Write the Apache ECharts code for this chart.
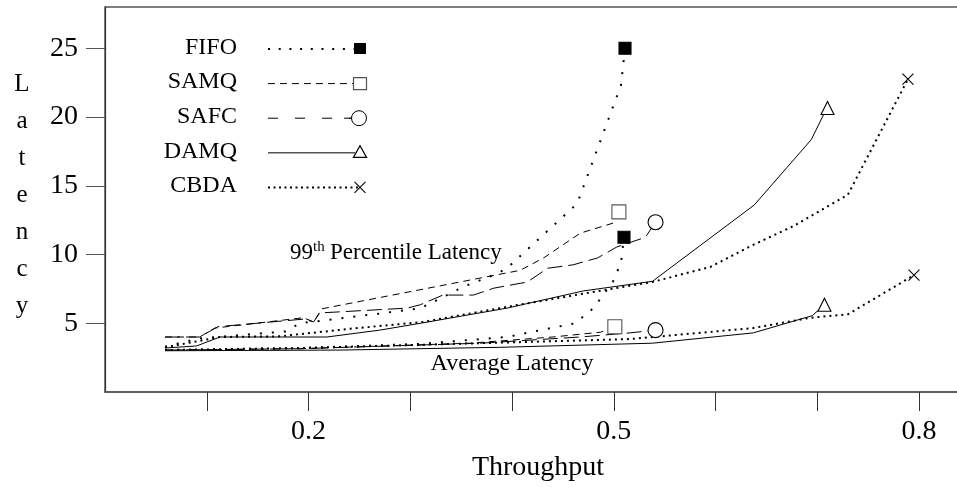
<!DOCTYPE html>
<html>
<head>
<meta charset="utf-8">
<script src="https://cdn.jsdelivr.net/npm/echarts@6/dist/echarts.min.js"></script>
<style>
  html, body { margin: 0; padding: 0; background: #fff; }
  #chart { width: 957px; height: 487px; }
</style>
</head>
<body>
<div id="chart"></div>
<script>
// Switch architectures compared
const schemes = ['FIFO', 'SAMQ', 'SAFC', 'DAMQ', 'CBDA'];

// [throughput, latency] — 99th percentile latency
const fifoP99 = [[0.059, 3.3], [0.093, 3.9], [0.177, 4.4], [0.192, 5.0], [0.275, 5.75], [0.310, 6.1], [0.331, 6.85], [0.352, 7.65], [0.385, 8.6], [0.395, 9.0], [0.464, 13.7], [0.507, 22.3], [0.511, 25.0]];
const samqP99 = [[0.059, 4.0], [0.093, 4.0], [0.108, 4.65], [0.195, 5.4], [0.205, 5.1], [0.213, 6.05], [0.408, 8.85], [0.431, 9.75], [0.467, 11.55], [0.500, 12.3], [0.505, 13.1]];
const safcP99 = [[0.059, 4.0], [0.093, 4.0], [0.111, 4.75], [0.195, 5.3], [0.205, 5.1], [0.211, 5.75], [0.297, 6.1], [0.310, 6.35], [0.332, 7.05], [0.362, 7.05], [0.382, 7.55], [0.415, 8.0], [0.435, 9.0], [0.460, 9.25], [0.484, 9.75], [0.503, 10.55], [0.531, 11.25], [0.541, 12.35]];
const damqP99 = [[0.059, 3.2], [0.090, 3.35], [0.113, 4.0], [0.218, 4.0], [0.270, 4.5], [0.310, 5.0], [0.395, 6.1], [0.470, 7.35], [0.538, 8.05], [0.638, 13.6], [0.694, 18.35], [0.706, 20.15], [0.710, 20.65]];
const cbdaP99 = [[0.059, 3.25], [0.113, 4.0], [0.172, 4.05], [0.241, 4.6], [0.313, 5.1], [0.388, 6.1], [0.470, 7.15], [0.538, 8.0], [0.595, 9.1], [0.637, 10.7], [0.676, 12.05], [0.730, 14.35], [0.789, 22.75]];

// [throughput, latency] — average latency
const fifoAvg = [[0.059, 3.05], [0.192, 3.2], [0.310, 3.5], [0.395, 4.0], [0.435, 4.6], [0.462, 5.0], [0.480, 6.1], [0.499, 8.0], [0.507, 9.4], [0.510, 11.25]];
const samqAvg = [[0.059, 3.05], [0.192, 3.15], [0.359, 3.55], [0.440, 4.0], [0.487, 4.35], [0.501, 4.75]];
const safcAvg = [[0.059, 3.05], [0.192, 3.15], [0.369, 3.55], [0.467, 4.0], [0.516, 4.3], [0.541, 4.5]];
const damqAvg = [[0.059, 3.0], [0.231, 3.05], [0.388, 3.25], [0.538, 3.55], [0.637, 4.3], [0.695, 5.55], [0.707, 6.35]];
const cbdaAvg = [[0.059, 3.05], [0.192, 3.2], [0.369, 3.55], [0.516, 3.85], [0.637, 4.65], [0.693, 5.4], [0.730, 5.65], [0.762, 7.05], [0.795, 8.5]];

// Axis ticks and labels
const xTickValues = [0.1, 0.2, 0.3, 0.4, 0.5, 0.6, 0.7, 0.8];
const xLabelValues = [0.2, 0.5, 0.8];
const yTickValues = [5, 10, 15, 20, 25];

const FONT = '"Liberation Serif", "Times New Roman", serif';

// Line and marker style per scheme
const looks = {
  FIFO: { dash: [2, 10], width: 2, legendDash: [2, 8.7], symbol: 'rect', size: 12, fill: '#000', stroke: '#000' },
  SAMQ: { dash: [7, 5], width: 1, legendDash: [7, 5], symbol: 'rect', size: 14, fill: '#fff', stroke: '#555' },
  SAFC: { dash: [15, 6], width: 1, legendDash: [10, 17], symbol: 'circle', size: 15, fill: '#fff', stroke: '#000' },
  DAMQ: { dash: 'solid', width: 1, legendDash: null, symbol: 'triangle', size: 13, fill: '#fff', stroke: '#000' },
  CBDA: { dash: [2, 4], width: 2, legendDash: [2, 3.5], symbol: 'path://M0,0L10,10M10,0L0,10', size: 11, fill: 'none', stroke: '#000' }
};

const curves = [
  ['FIFO', '99th', fifoP99], ['SAMQ', '99th', samqP99], ['SAFC', '99th', safcP99], ['DAMQ', '99th', damqP99], ['CBDA', '99th', cbdaP99],
  ['FIFO', 'avg', fifoAvg], ['SAMQ', 'avg', samqAvg], ['SAFC', 'avg', safcAvg], ['DAMQ', 'avg', damqAvg], ['CBDA', 'avg', cbdaAvg]
];

// Each curve carries its marker only on its final point
function buildSeries(scheme, kind, pts) {
  const lk = looks[scheme];
  const data = pts.map((p, i) => i === pts.length - 1
    ? { value: p, symbol: lk.symbol, symbolSize: lk.size }
    : { value: p });
  return {
    name: scheme + ' ' + kind,
    type: 'line',
    data: data,
    symbol: 'none',
    showSymbol: true,
    silent: true,
    lineStyle: { color: '#000', width: lk.width, type: lk.dash, cap: 'butt' },
    itemStyle: { color: lk.fill, borderColor: lk.stroke, borderWidth: 1.1 },
    z: 3
  };
}

// Legend block, drawn as graphic elements (label, line sample, marker at the end)
function legendGraphics() {
  const out = [];
  const lineX1 = 268, lineX2 = 358, markX = 360;
  schemes.forEach((s, i) => {
    const lk = looks[s];
    const yc = 47.5 + i * 34.6;
    const yl = yc + 1.5;
    out.push({
      type: 'text', x: 237, y: yc,
      style: { text: s, font: '24px ' + FONT, fill: '#000', align: 'right', verticalAlign: 'middle', textAlign: 'right', textVerticalAlign: 'middle' }
    });
    const endX = s === 'SAFC' ? 352 : (s === 'DAMQ' ? 355 : lineX2);
    out.push({
      type: 'line', shape: { x1: lineX1, y1: yl, x2: endX, y2: yl },
      style: { stroke: s === 'DAMQ' ? '#555' : '#000', lineWidth: s === 'DAMQ' ? 1.6 : lk.width, lineDash: lk.legendDash, lineCap: 'butt' }
    });
    if (s === 'FIFO') {
      out.push({ type: 'rect', shape: { x: markX - 6, y: yl - 6, width: 12, height: 11 }, style: { fill: '#000' } });
    } else if (s === 'SAMQ') {
      out.push({ type: 'rect', shape: { x: markX - 6.5, y: yl - 6, width: 13, height: 12 }, style: { fill: '#fff', stroke: '#555', lineWidth: 1.2 } });
    } else if (s === 'SAFC') {
      out.push({ type: 'circle', shape: { cx: markX - 1, cy: yl, r: 7.5 }, style: { fill: '#fff', stroke: '#000', lineWidth: 1 } });
      out.push({ type: 'line', shape: { x1: 344, y1: yl, x2: 352, y2: yl }, style: { stroke: '#000', lineWidth: 1 } });
    } else if (s === 'DAMQ') {
      out.push({ type: 'polygon', shape: { points: [[markX, yl - 7], [markX - 6.5, yl + 4.5], [markX + 6.5, yl + 4.5]] }, style: { fill: '#fff', stroke: '#000', lineWidth: 1.3 } });
    } else {
      out.push({ type: 'line', shape: { x1: markX - 5.5, y1: yl - 5.5, x2: markX + 5.5, y2: yl + 5.5 }, style: { stroke: '#000', lineWidth: 1.1 } });
      out.push({ type: 'line', shape: { x1: markX + 5.5, y1: yl - 5.5, x2: markX - 5.5, y2: yl + 5.5 }, style: { stroke: '#000', lineWidth: 1.1 } });
    }
  });
  return out;
}

// Free-standing annotations
function annotationGraphics() {
  return [
    { type: 'text', x: 22, y: 195,
      style: { text: 'L\na\nt\ne\nn\nc\ny', font: '25px ' + FONT, lineHeight: 37, fill: '#000', align: 'center', verticalAlign: 'middle', textAlign: 'center', textVerticalAlign: 'middle' } },
    { type: 'text', x: 290, y: 253,
      style: { text: '99', font: '23px ' + FONT, fill: '#000', align: 'left', verticalAlign: 'middle', textAlign: 'left', textVerticalAlign: 'middle' } },
    { type: 'text', x: 313, y: 247.5,
      style: { text: 'th', font: '15px ' + FONT, fill: '#000', align: 'left', verticalAlign: 'middle', textAlign: 'left', textVerticalAlign: 'middle' } },
    { type: 'text', x: 330, y: 253,
      style: { text: 'Percentile Latency', font: '23px ' + FONT, fill: '#000', align: 'left', verticalAlign: 'middle', textAlign: 'left', textVerticalAlign: 'middle' } },
    { type: 'text', x: 512, y: 363.5,
      style: { text: 'Average Latency', font: '24px ' + FONT, fill: '#000', align: 'center', verticalAlign: 'middle', textAlign: 'center', textVerticalAlign: 'middle' } }
  ];
}

const chart = echarts.init(document.getElementById('chart'), null, { renderer: 'canvas' });
chart.setOption({
  animation: false,
  backgroundColor: '#fff',
  // The frame runs past the right edge of the canvas, so only its left, top and bottom sides show
  grid: {
    left: 105, top: 7, width: 866, height: 385,
    outerBoundsMode: 'none', containLabel: false,
    show: true, borderColor: '#555', borderWidth: 1.5, backgroundColor: 'transparent'
  },
  xAxis: {
    type: 'value', min: 0, max: 0.851,
    name: 'Throughput', nameLocation: 'middle', nameGap: 62,
    nameTextStyle: { fontFamily: FONT, fontSize: 28, color: '#000' },
    axisLine: { show: true, lineStyle: { color: '#555', width: 1.5 } },
    axisTick: { show: true, inside: false, length: 19, customValues: xTickValues, lineStyle: { color: '#333', width: 1 } },
    axisLabel: { customValues: xLabelValues, margin: 26, fontFamily: FONT, fontSize: 28, color: '#000', formatter: v => v.toFixed(1) },
    splitLine: { show: false }
  },
  yAxis: {
    type: 'value', min: 0, max: 28,
    axisLine: { show: true, lineStyle: { color: '#333', width: 1.2 } },
    axisTick: { show: true, inside: false, length: 19, customValues: yTickValues, lineStyle: { color: '#555', width: 1 } },
    axisLabel: { customValues: yTickValues, margin: 27, fontFamily: FONT, fontSize: 28, color: '#000' },
    splitLine: { show: false }
  },
  series: curves.map(c => buildSeries(c[0], c[1], c[2])),
  graphic: legendGraphics().concat(annotationGraphics())
});
</script>
</body>
</html>
